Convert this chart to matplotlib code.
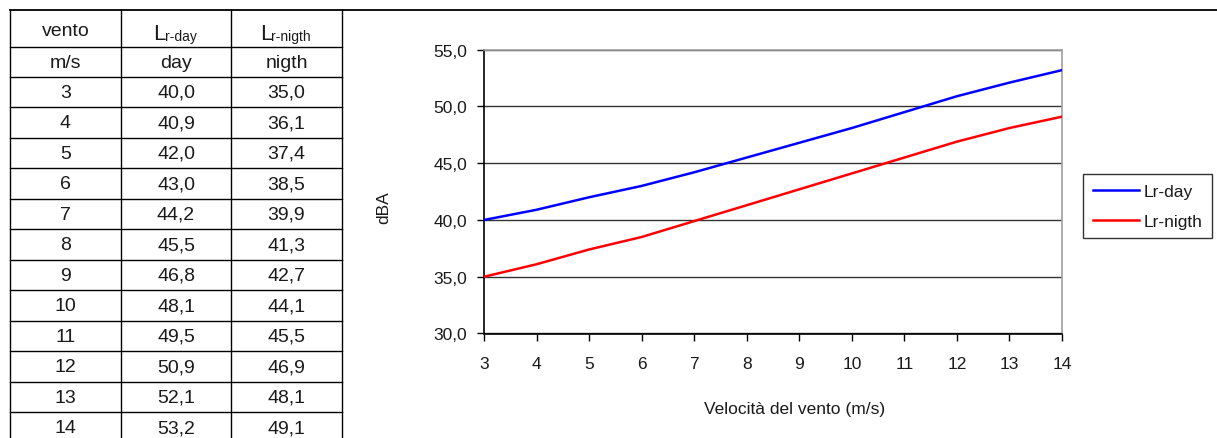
import matplotlib
matplotlib.use("Agg")
import matplotlib.pyplot as plt
from matplotlib.lines import Line2D
from matplotlib.ticker import FuncFormatter, MultipleLocator

# Wind speed (m/s) and rating levels (dBA)
wind_speed = [3, 4, 5, 6, 7, 8, 9, 10, 11, 12, 13, 14]
lr_day = [40.0, 40.9, 42.0, 43.0, 44.2, 45.5, 46.8, 48.1, 49.5, 50.9, 52.1, 53.2]
lr_night = [35.0, 36.1, 37.4, 38.5, 39.9, 41.3, 42.7, 44.1, 45.5, 46.9, 48.1, 49.1]

series_labels = ["Lr-day", "Lr-nigth"]
table_head = ["vento", "m/s", "day", "nigth"]
x_label = "Velocità del vento (m/s)"
y_label = "dBA"

W, H = 1217, 439
plt.rcParams["font.family"] = ["Liberation Sans", "DejaVu Sans"]
fig = plt.figure(figsize=(W / 100, H / 100), dpi=100)


def fx(px):
    return px / W


def fy(py):
    return 1 - py / H


def it(v):
    return f"{v:.1f}".replace(".", ",")


TXT = "#1a1a1a"

# ---- left table -------------------------------------------------------
col_x = [10, 121, 231, 342]
row_y = [11, 48] + [77.7 + 30.5 * i for i in range(13)]
lw_t = 1.0
# top rule across the full width
fig.add_artist(Line2D([fx(10), fx(W)], [fy(11), fy(11)], color="black", lw=1.3,
                      transform=fig.transFigure))
for x in col_x:
    fig.add_artist(Line2D([fx(x), fx(x)], [fy(11), fy(H + 5)], color="black", lw=lw_t,
                          transform=fig.transFigure))
for y in row_y[1:]:
    fig.add_artist(Line2D([fx(10), fx(342)], [fy(y), fy(y)], color="black", lw=lw_t,
                          transform=fig.transFigure))

tfs = 14
centers = [(col_x[i] + col_x[i + 1]) / 2 for i in range(3)]

# header row 1
fig.text(fx(centers[0]), fy(31), table_head[0], fontsize=tfs, ha="center", va="center",
         color=TXT)
for cx_left, sub in [(153, "r-day"), (260, "r-nigth")]:
    fig.text(fx(cx_left), fy(39.5), "L", fontsize=tfs + 2, ha="left", va="baseline",
             color=TXT)
    fig.text(fx(cx_left + 11.5), fy(41.5), sub, fontsize=10, ha="left", va="baseline",
             color=TXT)
# header row 2
for cx, s in zip(centers, [table_head[1], table_head[2], table_head[3]]):
    fig.text(fx(cx), fy(63.5), s, fontsize=tfs, ha="center", va="center", color=TXT)
# data rows
for i, (w, d, n) in enumerate(zip(wind_speed, lr_day, lr_night)):
    yc = 77.7 + 30.5 * (i + 0.5)
    for cx, s in zip(centers, [str(w), it(d), it(n)]):
        fig.text(fx(cx), fy(yc + 0.5), s, fontsize=tfs, ha="center", va="center",
                 color=TXT)

# ---- chart ------------------------------------------------------------
ax_l, ax_r, ax_t, ax_b = 484, 1062, 50.7, 334.5
ax = fig.add_axes([fx(ax_l), fy(ax_b), fx(ax_r - ax_l), (ax_b - ax_t) / H])

ax.plot(wind_speed, lr_day, color="#0000ff", lw=1.8, label=series_labels[0],
        solid_joinstyle="round", zorder=3)
ax.plot(wind_speed, lr_night, color="#ff0000", lw=1.8, label=series_labels[1],
        solid_joinstyle="round", zorder=3)

ax.set_xlim(3, 14)
ax.set_ylim(30, 55)
ax.xaxis.set_major_locator(MultipleLocator(1))
ax.yaxis.set_major_locator(MultipleLocator(5))
ax.yaxis.set_major_formatter(FuncFormatter(lambda v, p: it(v)))
ax.yaxis.grid(True, color="#333333", lw=1.0)
ax.set_axisbelow(True)

for side in ["left", "bottom"]:
    ax.spines[side].set_color("black")
    ax.spines[side].set_linewidth(1.2)
for side in ["top", "right"]:
    ax.spines[side].set_color("#a0a0a0")
    ax.spines[side].set_linewidth(1.2)

ax.tick_params(axis="y", direction="out", length=5, width=1.0, pad=7, labelsize=12.5,
               labelcolor=TXT)
ax.tick_params(axis="x", direction="out", length=5, width=1.0, pad=11, labelsize=12.5,
               labelcolor=TXT)

fig.text(fx(384), fy(208), y_label, rotation=90, fontsize=12.5, ha="center", va="center",
         color=TXT)
fig.text(fx(795), fy(410), x_label, fontsize=12.5, ha="center", va="center",
         color=TXT)

leg = fig.legend(loc="upper left", bbox_to_anchor=(fx(1083), fy(175)),
                 bbox_transform=fig.transFigure, fontsize=12.5, frameon=True,
                 fancybox=False, edgecolor="black", handlelength=2.7, handletextpad=0.25,
                 borderpad=0.55, borderaxespad=0, labelspacing=0.85)
leg.get_frame().set_linewidth(1.0)
for t in leg.get_texts():
    t.set_color(TXT)

fig.savefig("out.png", dpi=100)
